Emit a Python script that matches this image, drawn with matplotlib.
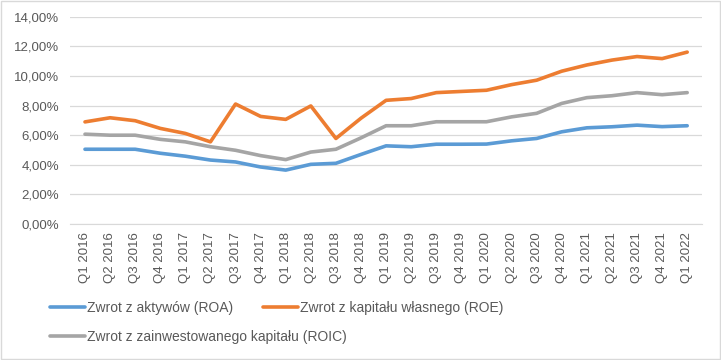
import matplotlib
matplotlib.use("Agg")
import matplotlib.pyplot as plt
from matplotlib.ticker import FuncFormatter, MultipleLocator
from matplotlib.patches import Rectangle

# Data (in %)
quarters = ["Q1 2016", "Q2 2016", "Q3 2016", "Q4 2016",
            "Q1 2017", "Q2 2017", "Q3 2017", "Q4 2017",
            "Q1 2018", "Q2 2018", "Q3 2018", "Q4 2018",
            "Q1 2019", "Q2 2019", "Q3 2019", "Q4 2019",
            "Q1 2020", "Q2 2020", "Q3 2020", "Q4 2020",
            "Q1 2021", "Q2 2021", "Q3 2021", "Q4 2021",
            "Q1 2022"]

roa = [5.05, 5.05, 5.05, 4.78, 4.58, 4.32, 4.19, 3.85, 3.64, 4.03, 4.10, 4.70,
       5.28, 5.22, 5.39, 5.39, 5.40, 5.62, 5.78, 6.23, 6.50, 6.57, 6.68, 6.58,
       6.64]
roe = [6.90, 7.18, 6.98, 6.46, 6.12, 5.55, 8.11, 7.27, 7.07, 7.98, 5.78, 7.15,
       8.36, 8.48, 8.88, 8.96, 9.04, 9.42, 9.72, 10.33, 10.75, 11.08, 11.32,
       11.18, 11.62]
roic = [6.07, 6.00, 6.00, 5.72, 5.55, 5.22, 4.98, 4.62, 4.35, 4.86, 5.05, 5.82,
        6.64, 6.64, 6.91, 6.91, 6.91, 7.24, 7.48, 8.15, 8.54, 8.67, 8.88, 8.74,
        8.88]

labels = ["Zwrot z aktywów (ROA)",
          "Zwrot z kapitału własnego (ROE)",
          "Zwrot z zainwestowanego kapitału (ROIC)"]
colors = ["#5B9BD5", "#ED7D31", "#A5A5A5"]

plt.rcParams["font.family"] = ["Liberation Sans", "DejaVu Sans"]
text_color = "#595959"

fig = plt.figure(figsize=(7.21, 3.6), dpi=100)
ax = fig.add_axes([0.097, 0.378, 0.877, 0.575])

x = list(range(len(quarters)))
lines = []
for series, lab, col in zip([roa, roe, roic], labels, colors):
    ln, = ax.plot(x, series, color=col, linewidth=2.6, label=lab,
                  solid_joinstyle="round", solid_capstyle="round")
    lines.append(ln)

ax.set_ylim(0, 14)
ax.set_xlim(-0.6, len(quarters) - 0.4)
ax.yaxis.set_major_locator(MultipleLocator(2))
ax.yaxis.set_major_formatter(FuncFormatter(lambda v, p: f"{v:.2f}%".replace(".", ",")))
ax.grid(axis="y", color="#D9D9D9", linewidth=0.9)
ax.set_axisbelow(True)

ax.set_xticks(x)
ax.set_xticklabels(quarters, rotation=90)
ax.tick_params(axis="both", length=0, colors=text_color, labelsize=9.5)
ax.tick_params(axis="x", pad=6)
ax.tick_params(axis="y", pad=8)

for side in ["top", "right", "left"]:
    ax.spines[side].set_visible(False)
ax.spines["bottom"].set_color("#D9D9D9")

# Legend entries
positions = [(0.070, 0.145), (0.365, 0.145), (0.070, 0.065)]
for ln, pos in zip(lines, positions):
    leg = fig.legend(handles=[ln], loc="center left", bbox_to_anchor=pos,
                     frameon=False, handlelength=2.5, handletextpad=0.15,
                     borderaxespad=0, borderpad=0, fontsize=10)
    for t in leg.get_texts():
        t.set_color(text_color)

# Chart border
fig.patches.append(Rectangle((0.001, 0.002), 0.997, 0.995, transform=fig.transFigure,
                             fill=False, edgecolor="#D9D9D9", linewidth=1))

fig.savefig("out.png", dpi=100)
